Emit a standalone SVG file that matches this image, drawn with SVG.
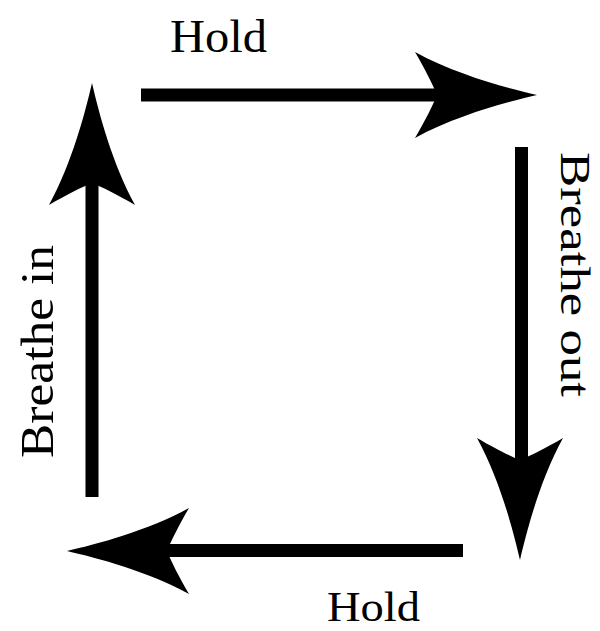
<svg xmlns="http://www.w3.org/2000/svg" width="600" height="631" viewBox="0 0 600 631">
<style>
.ln{stroke:#000;stroke-width:13;fill:none}
.lbl{font-family:"Liberation Serif","Times New Roman",serif;font-size:46px;fill:#000}
.edge{font-size:43px}
</style>
<defs>
<path id="head" d="M0,0 C-30,-7 -80,-20 -122,-43 C-112,-26 -104,-10 -100,0 C-104,10 -112,26 -122,43 C-80,20 -30,7 0,0 Z" fill="#000"/>
</defs>
<rect width="600" height="631" fill="#fff"/>
<g id="connectors">
<line class="ln" x1="141" y1="95" x2="442" y2="95"/>
<use href="#head" transform="translate(537,95)"/>
<line class="ln" x1="521.5" y1="147" x2="521.5" y2="462"/>
<use href="#head" transform="translate(520,560) rotate(90)"/>
<line class="ln" x1="463" y1="550.5" x2="162" y2="550.5"/>
<use href="#head" transform="translate(67,551) rotate(180)"/>
<line class="ln" x1="92" y1="497" x2="92" y2="180"/>
<use href="#head" transform="translate(92,83) rotate(-90)"/>
</g>
<g id="hold-top"><text class="lbl" x="170" y="52" textLength="97" lengthAdjust="spacingAndGlyphs">Hold</text></g>
<g id="breathe-out"><text class="lbl edge" transform="translate(561,152) rotate(90)" textLength="245" lengthAdjust="spacingAndGlyphs">Breathe out</text></g>
<g id="hold-bottom"><text class="lbl edge" x="327" y="621" textLength="93" lengthAdjust="spacingAndGlyphs">Hold</text></g>
<g id="breathe-in"><text class="lbl" transform="translate(53,458) rotate(-90)" textLength="213" lengthAdjust="spacingAndGlyphs">Breathe in</text></g>
</svg>
